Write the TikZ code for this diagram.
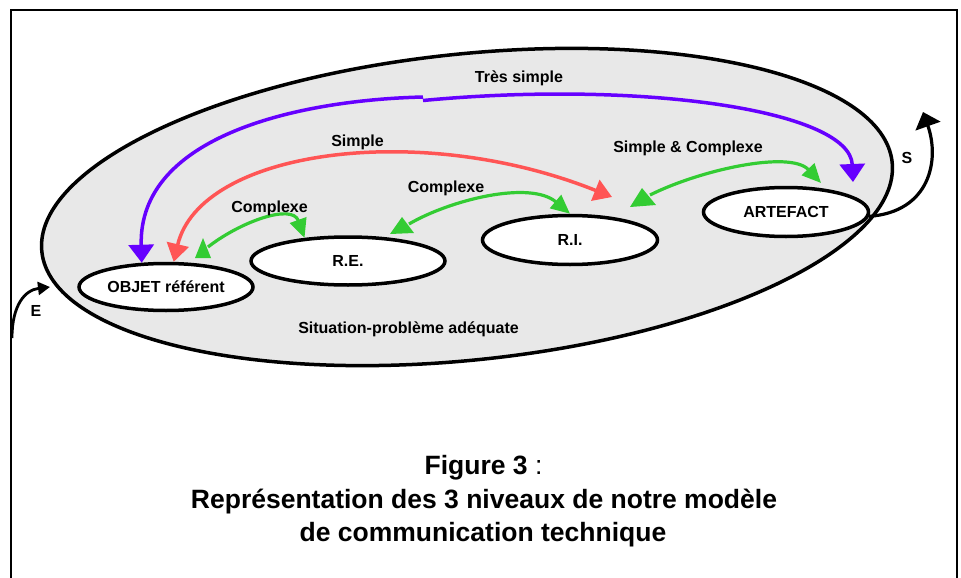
\documentclass[tikz,border=0pt]{standalone}
\usepackage{fontspec}
\setmainfont{Liberation Sans}
\usetikzlibrary{arrows.meta,shapes.geometric}
\definecolor{bggray}{RGB}{232,232,232}
\definecolor{vpurple}{RGB}{102,0,255}
\definecolor{vred}{RGB}{255,85,85}
\definecolor{vgreen}{RGB}{51,204,51}
\begin{document}
\begin{tikzpicture}[x=1pt,y=-1pt,
  lvl/.style={ellipse, draw, line width=3.5pt, fill=white, inner sep=0pt, font=\fontsize{16}{19}\selectfont\bfseries},
  lab/.style={anchor=base, inner sep=0pt, font=\fontsize{16}{19}\selectfont\bfseries},
  captxt/.style={anchor=base, inner sep=0pt, font=\fontsize{26.5}{32}\selectfont},
  arr/.style={line width=3.5pt},
  garr/.style={line width=3.2pt},
  ptip/.style={-{Triangle[length=18pt,width=25pt]}},
  rtip/.style={{Triangle[length=18pt,width=22pt]}-{Triangle[length=18pt,width=22pt]}},
  gtip/.style={-{Triangle[length=19pt,width=17pt]}},
]
\useasboundingbox (0,0) rectangle (961,578);
\draw[line width=2pt] (11,578) -- (11,10) -- (957,10) -- (957,578);

% situation ellipse
\node[ellipse, draw, line width=3.5pt, fill=bggray, inner sep=0pt,
      minimum width=855pt, minimum height=306pt, rotate=6] (sit) at (467,207) {};
\node[lab] (lsit) at (408.5,333) {Situation-problème adéquate};

% levels
\node[lvl, minimum width=174pt, minimum height=47pt] (obj) at (166,287) {OBJET référent};
\node[lvl, minimum width=194pt, minimum height=48pt] (re) at (348,261) {R.E.};
\node[lvl, minimum width=175pt, minimum height=49pt] (ri) at (570,240) {R.I.};
\node[lvl, minimum width=165pt, minimum height=49pt] (art) at (786,212) {ARTEFACT};

% coordinates
\coordinate (pM1) at (423,97);
\coordinate (pM2) at (423,100.5);
\coordinate (pR) at (853,182);
\coordinate (rR) at (612,197);
\coordinate (g1a) at (208,247);
\coordinate (g2a) at (409,224);
\coordinate (g3a) at (650,195);
\coordinate (g3b) at (821,183);

% Tres simple (purple)
\draw[arr, vpurple, ptip] (pM1) .. controls (300,100) and (138,135) .. (obj.135);
\draw[arr, vpurple, ptip] (pM2) .. controls (640,80) and (850,110) .. (pR);
\node[lab] (ltres) at (519,82) {Très simple};

% Simple (red)
\draw[arr, vred, rtip] (obj.73) .. controls (200,150) and (420,120) .. (rR);
\node[lab] (lsimple) at (357.5,146) {Simple};

% Complexe (green) OBJET - R.E.
\draw[garr, vgreen, gtip] (g1a) .. controls (240,222) and (292,203) .. (re.152);
\fill[vgreen] (203,238) -- (195,258) -- (211,258) -- cycle;
\node[lab] (lcx1) at (269.5,212) {Complexe};

% Complexe (green) R.E. - R.I.
\draw[garr, vgreen, gtip] (g2a) .. controls (450,200) and (530,180) .. (ri.north);
\fill[vgreen] (402,217) -- (390,234) -- (414,233) -- cycle;
\node[lab] (lcx2) at (446,192) {Complexe};

% Simple & Complexe (green) R.I. - ARTEFACT
\draw[garr, vgreen, gtip] (g3a) .. controls (700,170) and (790,150) .. (g3b);
\fill[vgreen] (642,188) -- (630,207) -- (656,205) -- cycle;
\node[lab] (lsc) at (688,152) {Simple \& Complexe};

% S and E
\draw[line width=3.2pt, -{Triangle[length=15pt,width=26pt]}] (art.-3) .. controls (930,212) and (940,160) .. (923,112);
\node[lab] (ls) at (907,163) {S};
\coordinate (eIn) at (12,338);
\coordinate (eOut) at (50,287);
\draw[line width=2.8pt, -{Triangle[length=12pt,width=13pt]}] (eIn) .. controls (12,305) and (25,290) .. (eOut);
\node[lab] (le) at (36,316) {E};

% caption
\node[captxt] (cap1) at (483.5,474) {\textbf{Figure 3} :};
\node[captxt, font=\fontsize{26.5}{32}\selectfont\bfseries] (cap2) at (484,508) {Représentation des 3 niveaux de notre modèle};
\node[captxt, font=\fontsize{26.5}{32}\selectfont\bfseries] (cap3) at (483,541) {de communication technique};
\end{tikzpicture}
\end{document}
